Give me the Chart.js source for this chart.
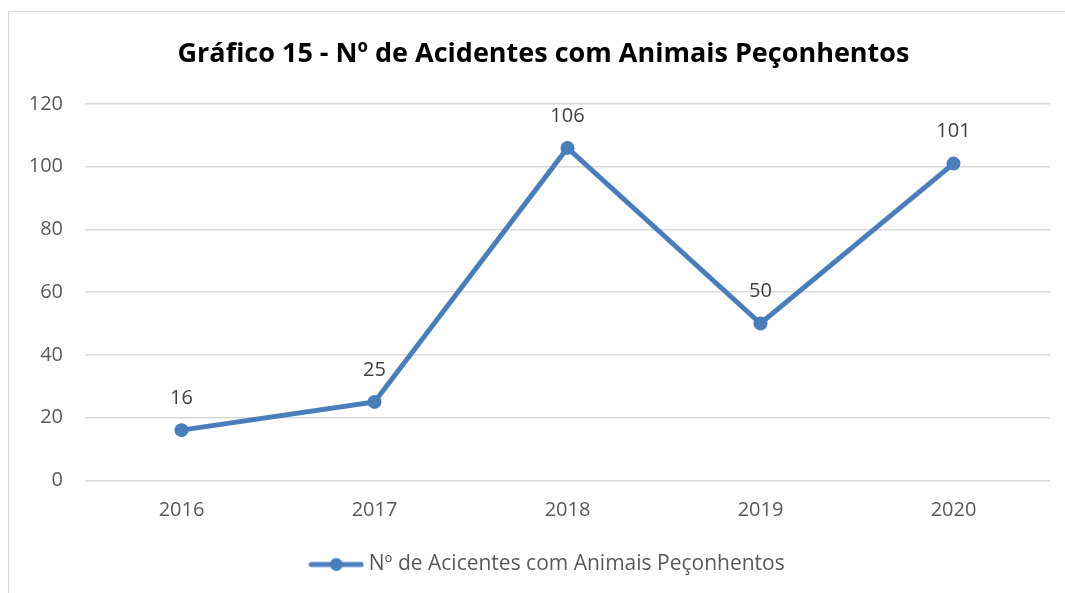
<!DOCTYPE html>
<html>
<head>
<meta charset="utf-8">
<script src="https://cdn.jsdelivr.net/npm/chart.js@4.4.0/dist/chart.umd.min.js"></script>
<style>
  body { margin: 0; background: #fff; }
  .frame { position: absolute; left: 8px; top: 11px; width: 1080px; height: 600px; border: 1px solid #d9d9d9; }
  .wrap { position: absolute; left: 0; top: 0; width: 1065px; height: 593px; }
</style>
</head>
<body>
<div class="frame"></div>
<div class="wrap"><canvas id="myChart"></canvas></div>
<script>
const years = ['2016', '2017', '2018', '2019', '2020'];
const acidentes = [16, 25, 106, 50, 101];
const yTicks = [0, 20, 40, 60, 80, 100, 120];
const seriesName = 'Nº de Acicentes com Animais Peçonhentos';
const titleText = 'Gráfico 15 - Nº de Acidentes com Animais Peçonhentos';

const blue = '#4a7ebb';
const font = '"Open Sans", sans-serif';

// legend marker: line with a dot in the middle
const marker = document.createElement('canvas');
marker.width = 56;
marker.height = 16;
let mctx = marker.getContext('2d');
mctx.strokeStyle = blue;
mctx.lineWidth = 5;
mctx.lineCap = 'round';
mctx.beginPath();
mctx.moveTo(3, 8);
mctx.lineTo(53, 8);
mctx.stroke();
mctx.fillStyle = blue;
mctx.beginPath();
mctx.arc(28, 8, 6.5, 0, Math.PI * 2);
mctx.fill();

// value labels over the points
const valueLabels = {
  id: 'valueLabels',
  afterDatasetsDraw(chart) {
    let ctx = chart.ctx;
    let meta = chart.getDatasetMeta(0);
    ctx.save();
    ctx.font = '20px ' + font;
    ctx.fillStyle = '#404040';
    ctx.textAlign = 'center';
    ctx.textBaseline = 'middle';
    meta.data.forEach((pt, i) => {
      ctx.fillText(chart.data.datasets[0].data[i], pt.x, pt.y - 32);
    });
    ctx.restore();
  }
};

// the frame runs past the right edge, so title and legend sit right of the canvas centre
const shiftBlocks = {
  id: 'shiftBlocks',
  afterLayout(chart) {
    chart.titleBlock.left += 18.5;
    chart.titleBlock.right += 18.5;
    chart.legend.left += 24.5;
    chart.legend.right += 24.5;
  }
};

var ctx = document.getElementById('myChart');
var myChart = new Chart(ctx, {
  type: 'line',
  data: {
    labels: years,
    datasets: [{
      label: seriesName,
      data: acidentes,
      borderColor: blue,
      backgroundColor: blue,
      borderWidth: 5,
      pointRadius: 7,
      pointHoverRadius: 7,
      pointBackgroundColor: blue,
      pointBorderWidth: 0,
      pointStyle: 'circle',
      tension: 0
    }]
  },
  options: {
    responsive: true,
    maintainAspectRatio: false,
    animation: false,
    layout: { padding: { top: 23, right: 15, left: 0, bottom: 8 } },
    plugins: {
      title: {
        display: true,
        text: titleText,
        color: '#000',
        font: { family: font, size: 27, weight: 'bold' },
        padding: { top: 15, bottom: 33.6 }
      },
      legend: {
        position: 'bottom',
        labels: {
          color: '#595959',
          font: { family: font, size: 21 },
          usePointStyle: true,
          pointStyle: marker,
          pointStyleWidth: 44,
          padding: 18.7,
          generateLabels: (chart) => [{
            text: seriesName,
            fontColor: '#595959',
            pointStyle: marker,
            datasetIndex: 0,
            lineWidth: 0
          }]
        }
      },
      tooltip: { enabled: false }
    },
    scales: {
      x: {
        offset: true,
        afterFit: (scale) => { scale.height = 55; },
        grid: { display: false, drawTicks: false },
        border: { display: false },
        ticks: { color: '#595959', font: { family: font, size: 20 }, padding: 18 }
      },
      y: {
        min: 0,
        max: 120,
        afterFit: (scale) => { scale.width = 85; },
        afterBuildTicks: (scale) => { scale.ticks = yTicks.map(v => ({ value: v })); },
        grid: { color: '#d9d9d9', lineWidth: 1.5, drawTicks: false },
        border: { display: false },
        ticks: { color: '#595959', font: { family: font, size: 20 }, padding: 22 }
      }
    }
  },
  plugins: [valueLabels, shiftBlocks]
});
</script>
</body>
</html>
